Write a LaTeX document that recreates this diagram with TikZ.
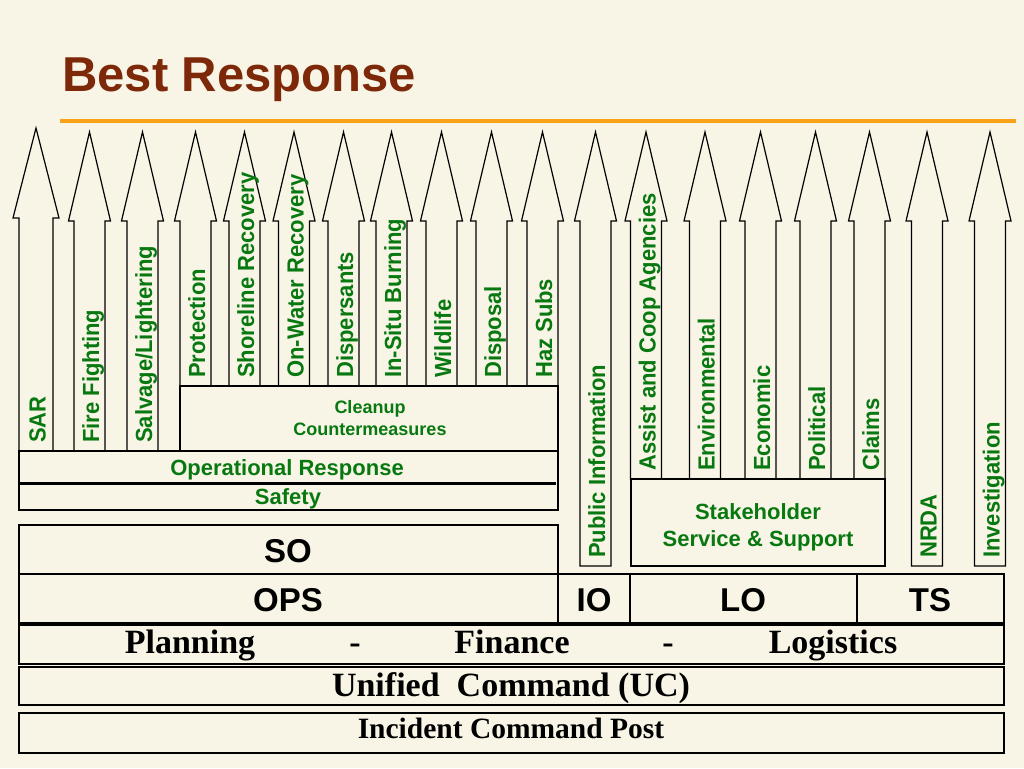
\documentclass[tikz,border=0pt]{standalone}
\usepackage{fontspec}
\setmainfont{Liberation Sans}
\newfontfamily\timesfont{Liberation Serif}
\usepackage{xcolor}
\usepackage{tikz}

\definecolor{slidebg}{RGB}{248,245,230}
\definecolor{titlered}{RGB}{125,40,8}
\definecolor{rulegold}{RGB}{248,162,24}
\definecolor{labelgreen}{RGB}{8,120,16}

\tikzset{
  arrowline/.style={draw=black, fill=slidebg, line width=1.2pt, line join=miter},
  boxline/.style={draw=black, fill=slidebg, line width=1.4pt},
  armlabel/.style={rotate=90, yscale=1.06, anchor=base west, inner sep=0pt, text=labelgreen,
    font=\fontsize{22}{26}\selectfont\bfseries},
  grouplabel/.style={anchor=base, inner sep=0pt, text=labelgreen,
    font=\fontsize{22}{26}\selectfont\bfseries},
  stafflabel/.style={anchor=base, inner sep=0pt, font=\fontsize{33}{36}\selectfont\bfseries},
  cmdlabel/.style={anchor=base, inner sep=0pt, font=\timesfont\fontsize{34}{36}\selectfont\bfseries},
}

\begin{document}
\begin{tikzpicture}[x=1pt, y=-1pt]
        \useasboundingbox (0,0) rectangle (1024,768);
        \fill[slidebg] (0,0) rectangle (1024,768);

        \node[anchor=base west, inner sep=0pt, text=titlered, font=\fontsize{49}{52}\selectfont\bfseries] (title) at (62,91) {Best Response};
        \draw[rulegold, line width=4pt] (60,121) -- (1016,121);

        % arms
        \draw[arrowline] (19,451) -- (19,218) -- (13,218) -- (36,128) -- (59,218) -- (53,218) -- (53,451) -- cycle;
        \node[armlabel] (sar) at (45.5,443) {SAR};
        \foreach \cx/\by/\txt/\nm in {
            89.5/451/{Fire Fighting}/fire, 142.5/451/{Salvage/Lightering}/salvage,
            195.5/386/{Protection}/protect, 244.5/386/{Shoreline Recovery}/shore,
            294/386/{On-Water Recovery}/onwater, 343.5/386/{Dispersants}/disp,
            391.5/386/{In-Situ Burning}/insitu, 441.5/386/{Wildlife}/wild,
            491.5/386/{Disposal}/disposal, 542.5/386/{Haz Subs}/hazsubs,
            595.5/566/{Public Information}/pubinfo, 646/479/{Assist and Coop Agencies}/assist,
            705/479/{Environmental}/env, 760.5/479/{Economic}/econ,
            815.5/479/{Political}/polit, 869.5/479/{Claims}/claims,
            927/566/{NRDA}/nrda, 990/566/{Investigation}/invest} {
            \draw[arrowline] (\cx-15.5,\by) -- (\cx-15.5,221) -- (\cx-21,221) -- (\cx,132)
                -- (\cx+21,221) -- (\cx+15.5,221) -- (\cx+15.5,\by) -- cycle;
            \node[armlabel] (\nm) at (\cx+9.5,\by-8) {\txt};
        }

        % groups
        \draw[boxline] (180,386) rectangle (558,451);
        \node[grouplabel, font=\fontsize{18}{22}\selectfont\bfseries] (cleanup) at (370,413) {Cleanup};
        \node[grouplabel, font=\fontsize{18}{22}\selectfont\bfseries] (counter) at (370,435) {Countermeasures};

        \draw[boxline] (19,451) rectangle (558,510);
        \draw[line width=3pt] (20,483) -- (556,483);
        \node[grouplabel] (opresp) at (287,475) {Operational Response};
        \node[grouplabel] (safety) at (288,504) {Safety};

        \draw[boxline] (631,479) rectangle (885,566);
        \node[grouplabel] (stake) at (758,519) {Stakeholder};
        \node[grouplabel] (service) at (758,546) {Service \& Support};

        % staff
        \draw[boxline] (19,525) rectangle (558,574);
        \node[stafflabel] (so) at (288,562) {SO};
        \draw[boxline] (19,574) rectangle (558,623);
        \node[stafflabel] (ops) at (288,611) {OPS};
        \draw[boxline] (558,574) rectangle (630,623);
        \node[stafflabel] (io) at (594,611) {IO};
        \draw[boxline] (630,574) rectangle (857,623);
        \node[stafflabel] (lo) at (743,611) {LO};
        \draw[boxline] (857,574) rectangle (1004,623);
        \node[stafflabel] (ts) at (930,611) {TS};

        % command
        \draw[boxline] (19,625) rectangle (1004,664);
        \node[cmdlabel] (planning) at (190,653) {Planning};
        \node[cmdlabel] (dasha) at (355,653) {-};
        \node[cmdlabel] (finance) at (512,653) {Finance};
        \node[cmdlabel] (dashb) at (668,653) {-};
        \node[cmdlabel] (logistics) at (833,653) {Logistics};

        \draw[boxline] (19,667) rectangle (1004,705);
        \node[cmdlabel] (uc) at (511,696) {Unified\ \ Command (UC)};

        \draw[boxline] (19,713) rectangle (1004,753);
        \node[cmdlabel, font=\timesfont\fontsize{29.5}{32}\selectfont\bfseries] (icp) at (511,738) {Incident Command Post};

    \end{tikzpicture}
\end{document}
